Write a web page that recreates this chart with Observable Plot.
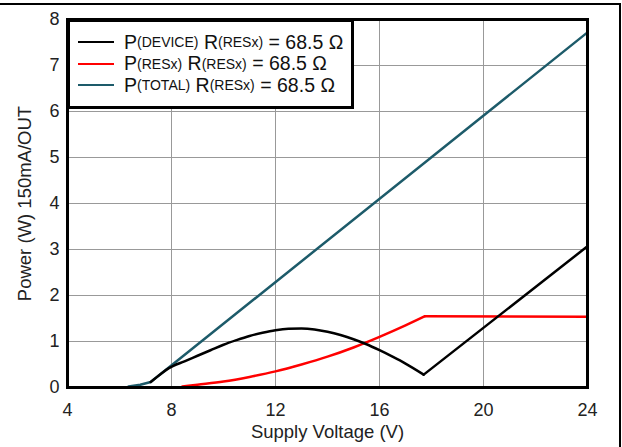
<!DOCTYPE html>
<html><head><meta charset="utf-8">
<script src="https://cdn.jsdelivr.net/npm/d3@7"></script>
<script src="https://cdn.jsdelivr.net/npm/@observablehq/plot@0.6"></script>
<style>
body{margin:0;background:#fff;font-family:"Liberation Sans",Arial,sans-serif;}
#wrap{position:relative;width:622px;height:447px;overflow:hidden;}
#border{position:absolute;left:0;top:3px;width:619px;height:450px;border-top:2px solid #000;border-right:2px solid #000;pointer-events:none;}
#legend{position:absolute;left:67px;top:19px;width:281px;height:84px;background:#fff;border:3px solid #000;box-sizing:content-box;color:#111;}
.row{position:absolute;left:0;height:22px;display:flex;align-items:center;font-size:19.5px;white-space:nowrap;}
.sw{display:inline-block;width:36px;height:0;border-top:2.5px solid;margin-left:8px;margin-right:10px;}
.row sub{font-size:14px;vertical-align:-4px;}
</style></head>
<body><div id="wrap"><div id="chart"></div><div id="legend"></div><div id="border"></div></div>
<script>
const xTicks = [4, 8, 12, 16, 20, 24];
const yTicks = [0, 1, 2, 3, 4, 5, 6, 7, 8];

const totalV = [6.35, 6.8, 7.2, 24];
const totalP = [0.02, 0.06, 0.12, 7.72];

// hump part of P(DEVICE), up to its minimum at 17.7 V
const deviceHumpV = [7.2, 7.6, 7.9, 8.5, 9, 9.5, 10, 10.5, 11, 11.5, 12, 12.5, 13, 13.5, 14, 14.5, 15, 15.5, 16, 16.5, 17, 17.7];
const deviceHumpP = [0.12, 0.3, 0.42, 0.57, 0.69, 0.81, 0.93, 1.03, 1.12, 1.19, 1.245, 1.275, 1.28, 1.26, 1.21, 1.14, 1.05, 0.94, 0.81, 0.67, 0.52, 0.28];
// rising straight part of P(DEVICE)
const deviceRiseV = [17.7, 24];
const deviceRiseP = [0.28, 3.07];

// P(RESx): curved rise, then flat
const resRiseV = [8.42, 9, 10, 11, 12, 13, 14, 15, 16, 17, 17.75];
const resRiseP = [0.02, 0.06, 0.13, 0.23, 0.35, 0.5, 0.67, 0.87, 1.1, 1.35, 1.55];
const resFlatV = [17.75, 24];
const resFlatP = [1.55, 1.54];

const seriesNames = ["DEVICE", "RESx", "TOTAL"];
const seriesColors = ["#000000", "#ff0000", "#1d5b6a"];
const legendValue = "68.5 Ω";

const toRows = (xs, ys) => xs.map((v, i) => ({v, p: ys[i]}));
const font = '"Liberation Sans", Arial, sans-serif';

const chart = Plot.plot({
  width: 622, height: 447,
  marginLeft: 67, marginRight: 35, marginTop: 19, marginBottom: 60,
  style: {fontFamily: font, fontSize: "18px", color: "#222", background: "#fff"},
  x: {domain: [4, 24]},
  y: {domain: [0, 8]},
  marks: [
    Plot.gridX(xTicks.slice(1, -1), {stroke: "#999", strokeOpacity: 1, strokeWidth: 1}),
    Plot.gridY(yTicks.slice(1, -1), {stroke: "#999", strokeOpacity: 1, strokeWidth: 1}),
    Plot.axisX(xTicks, {tickSize: 0, tickPadding: 16, fontSize: 18, label: null}),
    Plot.axisY(yTicks, {tickSize: 0, tickPadding: 8, fontSize: 18, label: null}),
    Plot.axisX({ticks: [], label: "Supply Voltage (V)", labelAnchor: "center", labelArrow: "none", labelOffset: 50, fontSize: 18.5}),
    Plot.axisY({ticks: [], label: "Power (W) 150mA/OUT", labelAnchor: "center", labelArrow: "none", labelOffset: 50, fontSize: 18.5}),
    Plot.line(toRows(totalV, totalP), {x: "v", y: "p", stroke: seriesColors[2], strokeWidth: 2.5}),
    Plot.line(toRows(resRiseV, resRiseP), {x: "v", y: "p", stroke: seriesColors[1], strokeWidth: 2.5, curve: "monotone-x"}),
    Plot.line(toRows(resFlatV, resFlatP), {x: "v", y: "p", stroke: seriesColors[1], strokeWidth: 2.5}),
    Plot.line(toRows(deviceHumpV, deviceHumpP), {x: "v", y: "p", stroke: seriesColors[0], strokeWidth: 2.5, curve: "monotone-x"}),
    Plot.line(toRows(deviceRiseV, deviceRiseP), {x: "v", y: "p", stroke: seriesColors[0], strokeWidth: 2.5}),
    Plot.frame({stroke: "#000", strokeWidth: 3})
  ]
});
document.getElementById("chart").appendChild(chart);

const legend = document.getElementById("legend");
seriesNames.forEach((name, i) => {
  const row = document.createElement("div");
  row.className = "row";
  row.style.top = (9 + i * 21.5) + "px";
  row.innerHTML = `<span class="sw" style="border-color:${seriesColors[i]}"></span>P<sub>(${name})</sub>&nbsp;R<sub>(RESx)</sub>&nbsp;= ${legendValue}`;
  legend.appendChild(row);
});
</script></body></html>
